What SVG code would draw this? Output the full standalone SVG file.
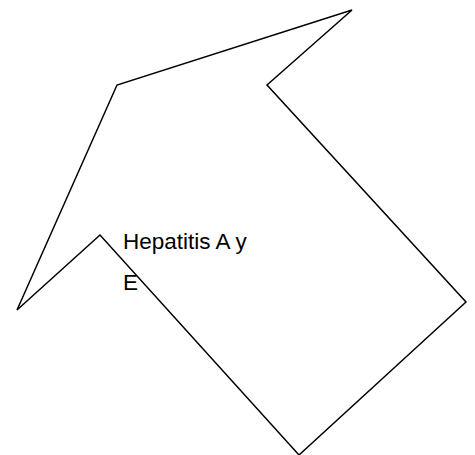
<svg xmlns="http://www.w3.org/2000/svg" width="475" height="455" viewBox="0 0 475 455">
<style>
.shape{fill:none;stroke:#000;stroke-width:1.5;stroke-linejoin:miter}
.lbl{font-family:"Liberation Sans",Arial,sans-serif;font-size:22.5px;fill:#000}
</style>
<rect width="475" height="455" fill="#fff"/>
<g id="arrow-shape">
<polygon class="shape" points="352,10 117,85 17,310 100,235 299,455 466,302 267,85"/>
</g>
<g id="label">
<text class="lbl" x="123" y="249">Hepatitis A y</text>
<text class="lbl" x="123" y="290">E</text>
</g>
</svg>
